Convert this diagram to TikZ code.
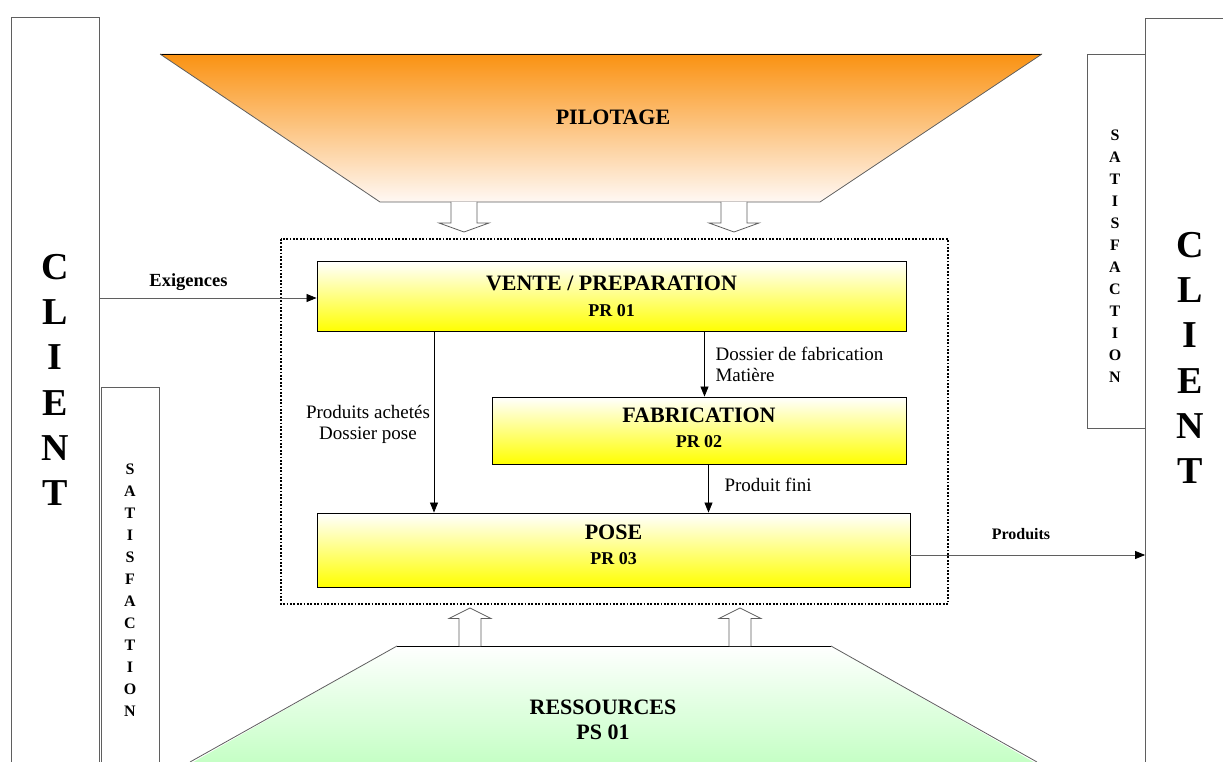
\documentclass[tikz,border=0pt]{standalone}
\usepackage{fontspec}
\setmainfont{Liberation Serif}
\usetikzlibrary{arrows.meta,calc}
\definecolor{pilorange}{RGB}{250,146,18}
\definecolor{pilwhite}{RGB}{255,248,244}
\definecolor{resgreen}{RGB}{196,255,196}
\definecolor{edgegray}{RGB}{95,95,95}
\newcommand\downblock[1]{\draw[blockarrow] (#1-13,202) -- (#1-13,223) -- (#1-25,223) -- (#1,232) -- (#1+25,223) -- (#1+13,223) -- (#1+13,202);}
\newcommand\upblock[1]{\draw[blockarrow] (#1-11,646) -- (#1-11,618.5) -- (#1-21,618.5) -- (#1,608) -- (#1+21,618.5) -- (#1+11,618.5) -- (#1+11,646);}
\tikzset{
  procbox/.style={draw=black, line width=0.9pt, top color=white, bottom color=yellow, inner sep=0pt, align=center},
  clientbox/.style={draw=edgegray, line width=0.8pt, fill=white, inner sep=0pt},
  flow/.style={-{Triangle[length=10pt,width=8pt,color=black]}, line width=0.8pt},
  blockarrow/.style={draw=edgegray, line width=0.8pt, fill=white},
  bigtitle/.style={font=\fontsize{22}{25}\selectfont\bfseries},
  sublabel/.style={font=\fontsize{19}{21}\selectfont, align=left},
  clientletters/.style={font=\fontsize{38}{45.2}\selectfont\bfseries, align=center, inner sep=0pt},
  satletters/.style={font=\fontsize{16}{22}\selectfont\bfseries, align=center, inner sep=0pt}
}
\begin{document}
\begin{tikzpicture}[x=1pt,y=-1pt]
\path[use as bounding box] (0,0) rectangle (1223,762);
\clip (0,0) rectangle (1223,762);
\fill[white] (0,0) rectangle (1223,762);

% client boxes
\node[clientbox, minimum width=88pt, minimum height=760pt] (clientL) at (55,397.5) {};
\node[clientbox, minimum width=100pt, minimum height=760pt] (clientR) at (1195.5,398) {};
\node[clientbox, minimum width=58pt, minimum height=380pt] (satL) at (130,577) {};
\node[clientbox, minimum width=58pt, minimum height=374.5pt] (satR) at (1116,241.5) {};
\node[clientletters] (cltxtL) at (55,380) {C\\L\\I\\E\\N\\T};
\node[clientletters] (cltxtR) at (1190,358) {C\\L\\I\\E\\N\\T};
\node[satletters] (sattxtL) at (130,590) {S\\A\\T\\I\\S\\F\\A\\C\\T\\I\\O\\N};
\node[satletters] (sattxtR) at (1115,256.5) {S\\A\\T\\I\\S\\F\\A\\C\\T\\I\\O\\N};

% pilotage
\shade[top color=pilorange, bottom color=pilwhite] (160,54) -- (1042,54) -- (820,202) -- (380,202) -- cycle;
\draw[line width=0.9pt] (160,54) -- (1042,54);
\draw[edgegray, line width=0.8pt] (1042,54) -- (820,202) -- (380,202) -- (160,54);
\node[bigtitle] (pilotage) at (613,117) {PILOTAGE};

% ressources
\shade[top color=white, bottom color=resgreen] (397,646) -- (831,646) -- (1037,764) -- (190,764) -- cycle;
\draw[line width=0.9pt] (397,646) -- (831,646);
\draw[edgegray, line width=0.8pt] (190,762) -- (397,646);
\draw[edgegray, line width=0.8pt] (831,646) -- (1037,762);
\node[bigtitle, align=center] (ressources) at (603,719.5) {RESSOURCES\\PS 01};

% dotted frame
\draw[line width=1.8pt, dash pattern=on 1.8pt off 1.6pt] (281,239) rectangle (948,604);

% block arrows
\downblock{464}
\downblock{734}
\upblock{470}
\upblock{740}

% process boxes
\node[procbox, minimum width=589pt, minimum height=70pt, font=\fontsize{18}{26}\selectfont\bfseries] (vente) at (611.5,296.5)
  {{\fontsize{22}{26}\selectfont VENTE / PREPARATION}\\PR 01};
\node[procbox, minimum width=414pt, minimum height=67pt, font=\fontsize{18}{24.5}\selectfont\bfseries] (fab) at (699,430.5)
  {{\fontsize{22}{26}\selectfont FABRICATION}\\PR 02\rule[-6pt]{0pt}{0pt}};
\node[procbox, minimum width=593pt, minimum height=74pt, font=\fontsize{18}{25}\selectfont\bfseries] (pose) at (613.5,550)
  {{\fontsize{22}{26}\selectfont POSE}\\PR 03\rule[-10pt]{0pt}{0pt}};

% connectors
\coordinate (xa) at (434,0);
\coordinate (xb) at (704.5,0);
\coordinate (xc) at (708.5,0);
\coordinate (yex) at (0,298);
\coordinate (ypr) at (0,555);
\draw[flow] (vente.south -| xa) -- (pose.north -| xa);
\draw[flow] (vente.south -| xb) -- (fab.north -| xb);
\draw[flow] (fab.south -| xc) -- (pose.north -| xc);
\draw[flow, draw=edgegray] (clientL.east |- yex) -- (vente.west |- yex);
\draw[flow, draw=edgegray] (pose.east |- ypr) -- (clientR.west |- ypr);

% labels
\node[sublabel, anchor=west] (lbl1) at (712,364.5) {Dossier de fabrication\\Matière};
\node[sublabel, align=center] (lbl2) at (368,424) {Produits achetés\\Dossier pose};
\node[sublabel, anchor=west] (lbl3) at (721,485) {Produit fini};
\node[font=\fontsize{18.5}{20}\selectfont\bfseries] (lblex) at (188.5,282) {Exigences};
\node[font=\fontsize{16}{18}\selectfont\bfseries] (lblpr) at (1021,534) {Produits};
\end{tikzpicture}
\end{document}
